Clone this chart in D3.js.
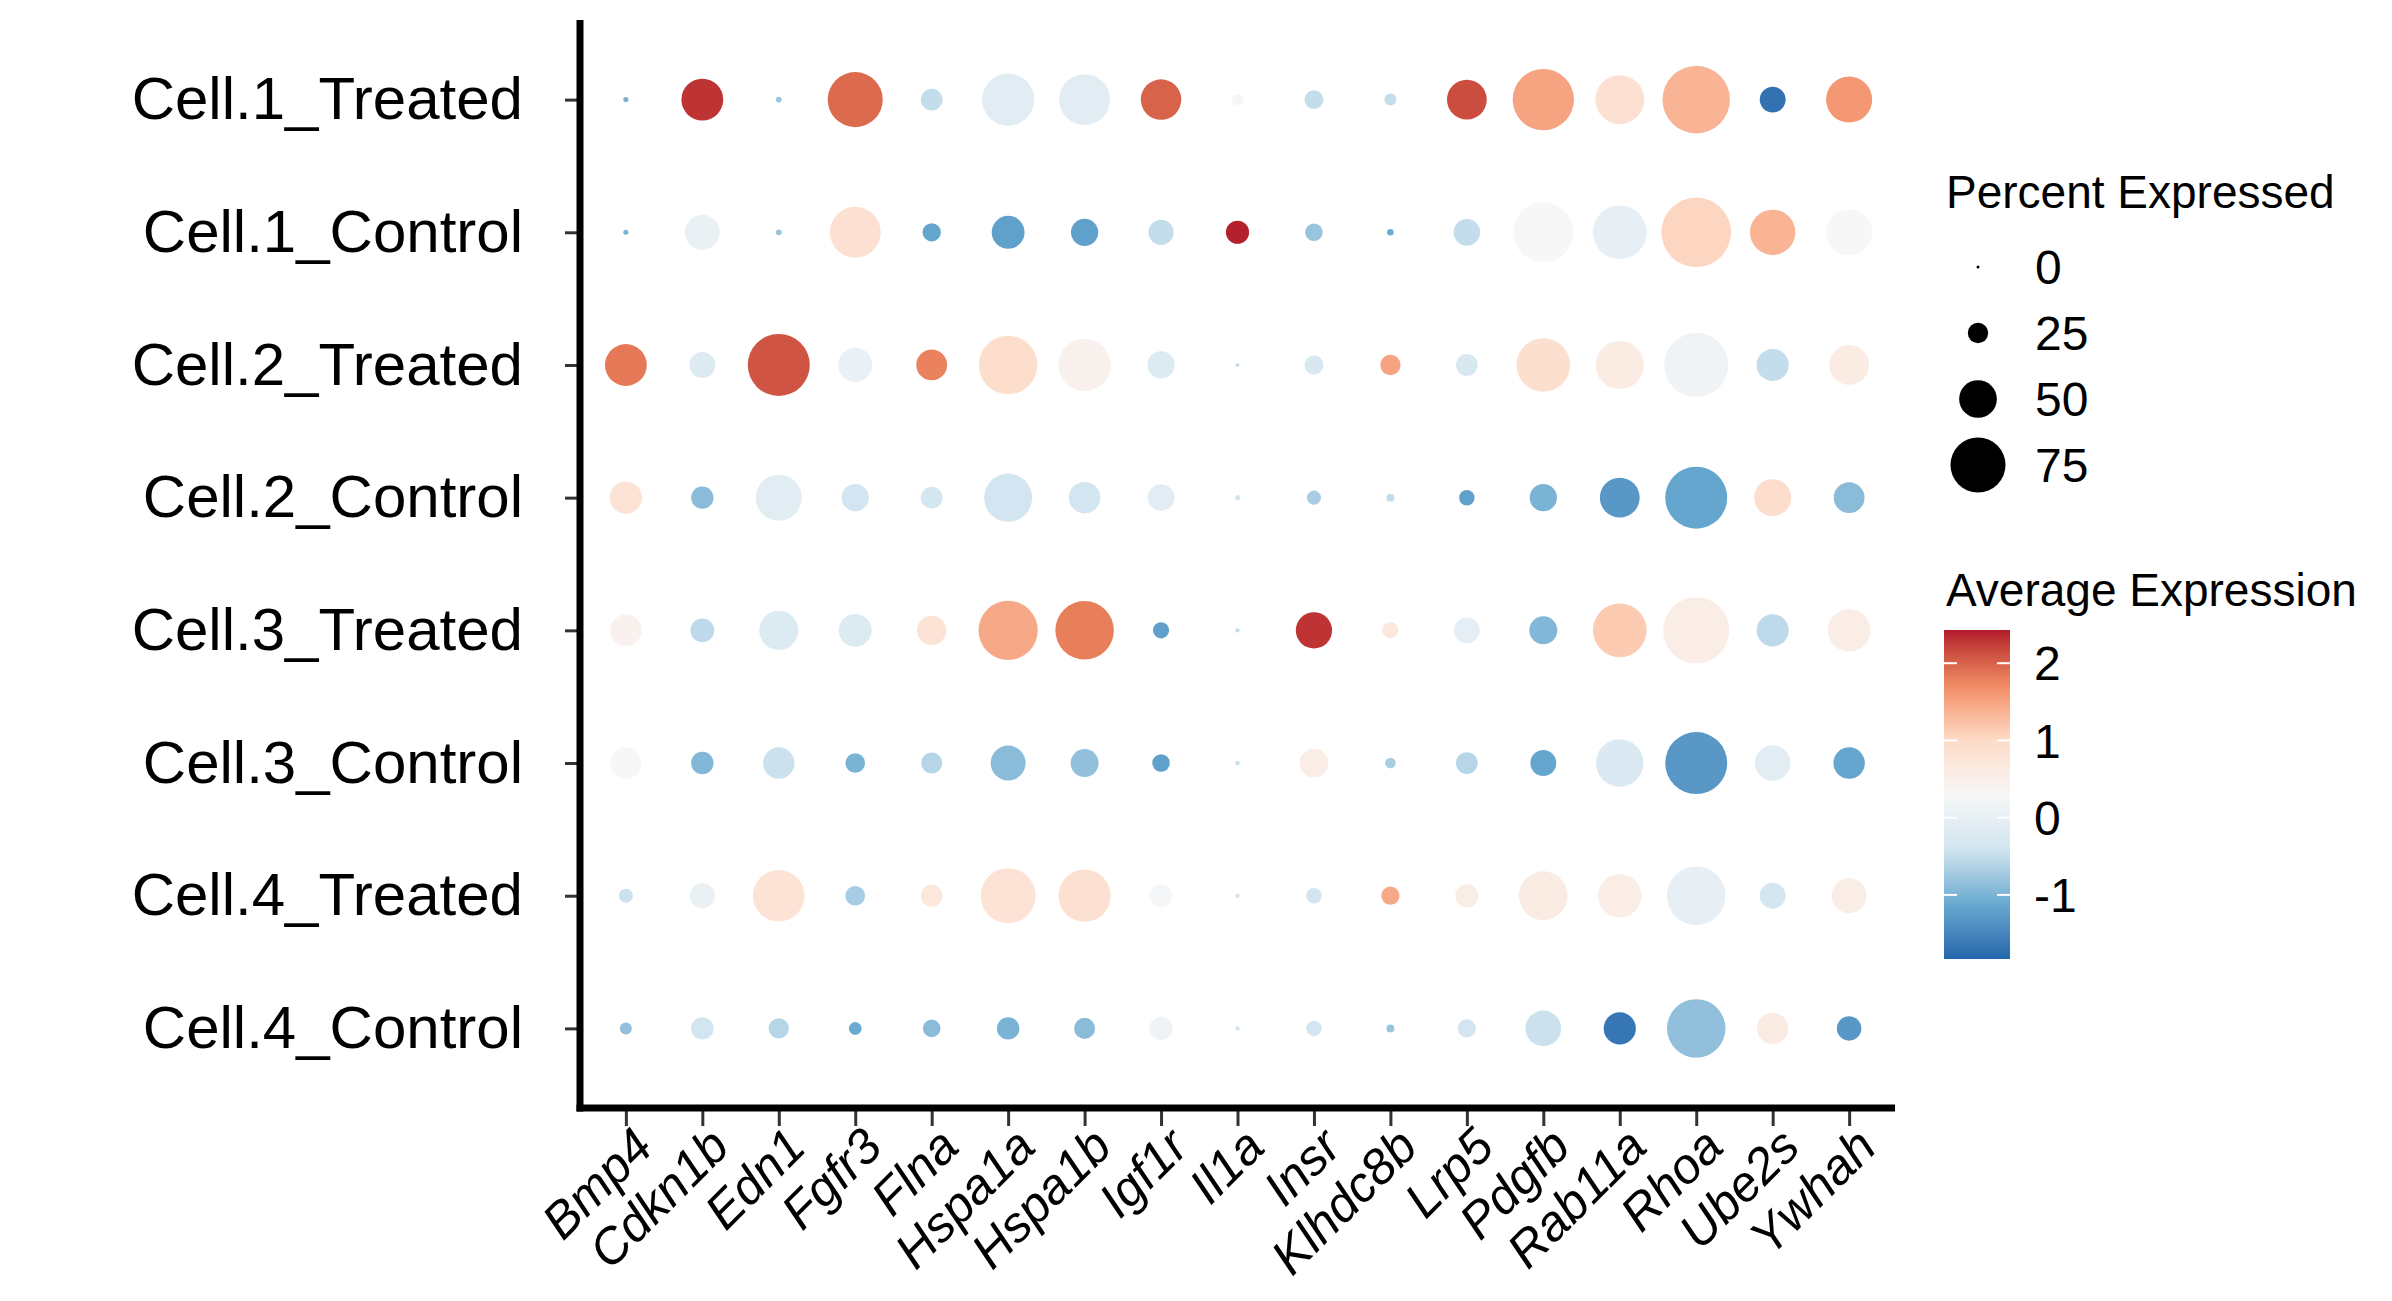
<!DOCTYPE html>
<html>
<head>
<meta charset="utf-8">
<script src="https://cdn.jsdelivr.net/npm/d3@7"></script>
<style>
  body { margin: 0; background: #fff; }
  text { font-family: "Liberation Sans", Arial, sans-serif; fill: #000; }
</style>
</head>
<body>
<div id="chart"></div>
<script>
// genes on x, groups on y
var genes = ["Bmp4","Cdkn1b","Edn1","Fgfr3","Flna","Hspa1a","Hspa1b","Igf1r","Il1a","Insr","Klhdc8b","Lrp5","Pdgfb","Rab11a","Rhoa","Ube2s","Ywhah"];
var groups = ["Cell.1_Treated","Cell.1_Control","Cell.2_Treated","Cell.2_Control","Cell.3_Treated","Cell.3_Control","Cell.4_Treated","Cell.4_Control"];

// percent expressed, one row per group
var pct = [
  [3,56,4,75,27,71,69,54,12,23,13,53,84,66,93,33,62],
  [3,46,4,69,22,43,35,32,29,21,5,34,82,73,96,61,62],
  [56,33,85,45,40,80,71,35,1.5,23,25,27,73,65,88,42,53],
  [42,28,62,35,27,65,41,34,3,16,7,18,35,53,85,49,40],
  [41,30,52,43,38,81,80,19,2,48,19,33,36,73,91,42,57],
  [41,28,41,24,26,46,36,21,2,37,11,27,33,64,85,47,41],
  [16,32,70,24,27,75,71,28,2,18,22,29,66,58,80,33,46],
  [13,28,25,14,21,28,26,29,2,18,7,22,47,42,80,41,31]
];
// average (scaled) expression
var avg = [
  [-1.0,2.3,-0.8,1.95,-0.5,-0.1,-0.1,2.0,0.25,-0.5,-0.5,2.15,1.5,0.85,1.35,-1.7,1.6],
  [-1.0,0.05,-0.8,0.85,-1.15,-1.2,-1.2,-0.5,2.4,-0.8,-1.1,-0.5,0.3,0.0,1.05,1.35,0.3],
  [1.85,-0.2,2.1,0.05,1.78,0.95,0.45,-0.2,-0.5,-0.3,1.5,-0.3,0.9,0.6,0.15,-0.5,0.6],
  [0.8,-0.9,-0.1,-0.4,-0.35,-0.4,-0.4,-0.1,-0.4,-0.7,-0.5,-1.2,-1.0,-1.3,-1.15,0.95,-0.9],
  [0.45,-0.55,-0.2,-0.2,0.8,1.45,1.8,-1.2,-0.5,2.3,0.7,-0.05,-0.95,1.15,0.55,-0.55,0.55],
  [0.3,-0.95,-0.45,-1.0,-0.6,-0.9,-0.85,-1.2,-0.5,0.55,-0.7,-0.6,-1.15,-0.25,-1.3,-0.1,-1.15],
  [-0.45,0.05,0.8,-0.7,0.7,0.8,0.85,0.25,-0.4,-0.4,1.45,0.55,0.6,0.55,0.0,-0.35,0.55],
  [-0.85,-0.4,-0.6,-1.1,-0.9,-1.0,-0.9,0.15,-0.4,-0.4,-0.8,-0.4,-0.45,-1.65,-0.85,0.6,-1.3]
];

var sizeBreaks = [0, 25, 50, 75];
var colorBreaks = [2, 1, 0, -1];
var colorLimits = [-1.83, 2.43];
var rdbu = ["#2166ac","#67a9cf","#d1e5f0","#f7f7f7","#fddbc7","#ef8a62","#b2182b"];

var W = 2392, H = 1301;
var pLeft = 580, pRight = 1895, pTop = 20, pBottom = 1108;

var svg = d3.select('#chart').append('svg')
  .attr('width', W).attr('height', H);
svg.append('rect').attr('width', W).attr('height', H).attr('fill', '#fff');

var x = d3.scalePoint().domain(genes).range([pLeft, pRight]).padding(0.6);
var y = d3.scalePoint().domain(groups).range([pTop, pBottom]).padding(0.6);
var r = d3.scaleLinear().domain([0, 100]).range([1.5, 36.2]);
var color = d3.scaleLinear()
  .domain(d3.range(rdbu.length).map(function(i){ return colorLimits[0] + i * (colorLimits[1] - colorLimits[0]) / (rdbu.length - 1); }))
  .range(rdbu)
  .interpolate(d3.interpolateLab)
  .clamp(true);

// flatten into cells
var cells = [];
groups.forEach(function(g, i){
  genes.forEach(function(gene, j){
    cells.push({group: g, gene: gene, pct: pct[i][j], avg: avg[i][j]});
  });
});

svg.append('g').selectAll('circle')
  .data(cells)
  .enter()
  .append('circle')
  .attr('cx', function(d){ return x(d.gene); })
  .attr('cy', function(d){ return y(d.group); })
  .attr('r', function(d){ return r(d.pct); })
  .attr('fill', function(d){ return color(d.avg); });

// axes
var yAxis = svg.append('g')
  .attr('transform', 'translate(' + pLeft + ',0)')
  .call(d3.axisLeft(y).tickSize(15).tickPadding(42));
yAxis.select('.domain').remove();
yAxis.selectAll('.tick line').attr('stroke', '#333').attr('stroke-width', 3);
yAxis.selectAll('.tick text')
  .attr('font-size', 60).attr('font-family', '"Liberation Sans", Arial, sans-serif').attr('fill', '#000');

var xAxis = svg.append('g')
  .attr('transform', 'translate(0,' + pBottom + ')')
  .call(d3.axisBottom(x).tickSize(18).tickFormat(''));
xAxis.select('.domain').remove();
xAxis.selectAll('.tick line').attr('stroke', '#333').attr('stroke-width', 3);

svg.append('g').selectAll('text')
  .data(genes)
  .enter()
  .append('text')
  .attr('transform', function(d){ return 'translate(' + (x(d) + 4) + ',' + (pBottom + 16) + ') rotate(-45)'; })
  .attr('text-anchor', 'end')
  .attr('dy', '0.72em')
  .attr('font-size', 50)
  .attr('font-style', 'italic')
  .text(function(d){ return d; });

// axis lines
svg.append('line').attr('x1', pLeft).attr('x2', pLeft).attr('y1', pTop).attr('y2', pBottom + 3.5)
  .attr('stroke', '#000').attr('stroke-width', 7);
svg.append('line').attr('x1', pLeft - 3.5).attr('x2', pRight).attr('y1', pBottom).attr('y2', pBottom)
  .attr('stroke', '#000').attr('stroke-width', 7);

// size legend
var lg = svg.append('g');
lg.append('text').attr('x', 1946).attr('y', 208).attr('font-size', 46).text('Percent Expressed');
var sizeY = d3.scalePoint().domain(sizeBreaks).range([267, 465]);
lg.selectAll('circle.key')
  .data(sizeBreaks)
  .enter()
  .append('circle')
  .attr('cx', 1978)
  .attr('cy', function(d){ return sizeY(d); })
  .attr('r', function(d){ return r(d); })
  .attr('fill', '#000');
lg.selectAll('text.key')
  .data(sizeBreaks)
  .enter()
  .append('text')
  .attr('x', 2035)
  .attr('y', function(d){ return sizeY(d); })
  .attr('dy', '0.36em')
  .attr('font-size', 48)
  .text(function(d){ return d; });

// colour legend
var cg = svg.append('g');
cg.append('text').attr('x', 1946).attr('y', 606).attr('font-size', 46).text('Average Expression');
var barX = 1944, barW = 66, barTop = 630, barBot = 959;
var cy = d3.scaleLinear().domain(colorLimits).range([barBot, barTop]);
var grad = svg.append('defs').append('linearGradient')
  .attr('id', 'cbar').attr('x1', 0).attr('x2', 0).attr('y1', 1).attr('y2', 0);
grad.selectAll('stop')
  .data(d3.range(0, 1.0001, 0.02))
  .enter()
  .append('stop')
  .attr('offset', function(t){ return t; })
  .attr('stop-color', function(t){ return color(colorLimits[0] + t * (colorLimits[1] - colorLimits[0])); });
cg.append('rect').attr('x', barX).attr('y', barTop).attr('width', barW).attr('height', barBot - barTop)
  .attr('fill', 'url(#cbar)');
colorBreaks.forEach(function(v){
  cg.append('line').attr('x1', barX).attr('x2', barX + 13).attr('y1', cy(v)).attr('y2', cy(v))
    .attr('stroke', '#fff').attr('stroke-width', 2);
  cg.append('line').attr('x1', barX + barW - 13).attr('x2', barX + barW).attr('y1', cy(v)).attr('y2', cy(v))
    .attr('stroke', '#fff').attr('stroke-width', 2);
});
cg.selectAll('text.key')
  .data(colorBreaks)
  .enter()
  .append('text')
  .attr('x', 2034)
  .attr('y', function(d){ return cy(d); })
  .attr('dy', '0.36em')
  .attr('font-size', 48)
  .text(function(d){ return d < 0 ? '-' + Math.abs(d) : d; });
</script>
</body>
</html>
